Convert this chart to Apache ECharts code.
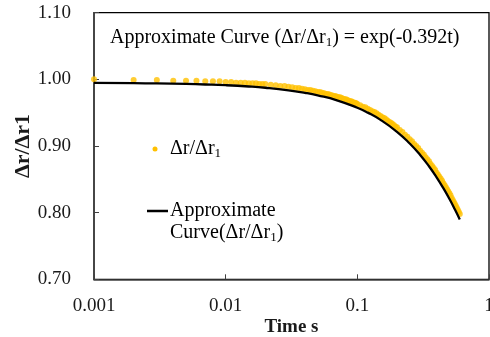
<!DOCTYPE html>
<html><head><meta charset="utf-8">
<script src="https://cdn.jsdelivr.net/npm/echarts@6/dist/echarts.min.js"></script>
<style>html,body{margin:0;padding:0;background:#fff}#c{width:490px;height:337px}</style>
</head><body><div id="c"></div>
<script>
// Measured ratio Δr/Δr1 (yellow dots): time t (s) and value
const dotT = [0.001,0.002,0.003,0.004,0.005,0.006,0.007,0.008,0.009,0.010,
  0.011,0.012,0.013,0.014,0.015,0.016,0.017,0.018,0.019,0.020,
  0.022,0.024,0.026,0.028,0.030,0.032,0.034,0.036,0.038,0.040,
  0.042,0.044,0.046,0.048,0.050,0.052,0.054,0.056,0.058,0.060,
  0.062,0.064,0.066,0.068,0.070,0.072,0.074,0.076,0.078,0.080,
  0.082,0.084,0.086,0.088,0.090,0.092,0.094,0.096,0.098,0.100,
  0.105,0.110,0.115,0.120,0.125,0.130,0.135,0.140,0.145,0.150,
  0.155,0.160,0.165,0.170,0.175,0.180,0.185,0.190,0.195,0.200,
  0.21,0.22,0.23,0.24,0.25,0.26,0.27,0.28,0.29,0.30,
  0.31,0.32,0.33,0.34,0.35,0.36,0.37,0.38,0.39,0.40,
  0.41,0.42,0.43,0.44,0.45,0.46,0.47,0.48,0.49,0.50,
  0.51,0.52,0.53,0.54,0.55,0.56,0.57,0.58,0.59,0.60];
const dotRatio = [1.000,0.999,0.999,0.998,0.998,0.998,0.997,0.997,0.997,0.996,
  0.996,0.995,0.995,0.995,0.994,0.994,0.994,0.993,0.993,0.993,
  0.992,0.991,0.990,0.990,0.989,0.988,0.987,0.987,0.986,0.985,
  0.984,0.984,0.983,0.982,0.981,0.981,0.980,0.979,0.978,0.978,
  0.977,0.976,0.975,0.975,0.974,0.973,0.973,0.972,0.971,0.970,
  0.970,0.969,0.968,0.967,0.967,0.966,0.965,0.965,0.964,0.963,
  0.961,0.959,0.958,0.956,0.954,0.952,0.951,0.949,0.947,0.945,
  0.943,0.942,0.940,0.938,0.936,0.935,0.933,0.931,0.929,0.928,
  0.924,0.921,0.917,0.914,0.910,0.907,0.903,0.900,0.897,0.893,
  0.890,0.887,0.883,0.880,0.877,0.873,0.870,0.867,0.864,0.860,
  0.857,0.854,0.851,0.848,0.844,0.841,0.838,0.835,0.832,0.829,
  0.826,0.822,0.819,0.816,0.813,0.810,0.807,0.804,0.801,0.798];
// Approximate curve (black line)
const curveT = [0.001,0.002,0.003,0.005,0.007,0.01,0.015,0.02,0.03,0.04,0.05,0.07,
  0.1,0.12,0.15,0.2,0.25,0.3,0.35,0.4,0.45,0.5,0.55,0.6];
const curveRatio = [0.9946,0.9942,0.9939,0.9931,0.9923,0.9912,0.9893,0.9874,0.9836,0.9798,0.9760,0.9686,
  0.9574,0.9501,0.9392,0.9213,0.9037,0.8865,0.8696,0.8530,0.8367,0.8208,0.8051,0.7898];
const xTicks = ['0.001','0.01','0.1','1'];
const yTicks = ['0.70','0.80','0.90','1.00','1.10'];

const FONT = 'Liberation Serif';
const TXT = '#1a1a1a';
const dotData = dotT.map((t,i)=>[t,dotRatio[i]]);
const curveData = curveT.map((t,i)=>[t,curveRatio[i]]);
const subRich = {
  n: {fontFamily: FONT, fontSize: 20, color: TXT, lineHeight: 22},
  s: {fontFamily: FONT, fontSize: 13, color: TXT, lineHeight: 22, verticalAlign: 'bottom'}
};

const chart = echarts.init(document.getElementById('c'), null, {renderer:'canvas'});
chart.setOption({
  animation: false,
  backgroundColor: '#fff',
  grid: {left: 94, right: 1, top: 12.7, bottom: 57.7, show: true, borderColor: '#000', borderWidth: 1.3, containLabel: false, outerBoundsMode: 'none'},
  xAxis: {
    type: 'log', logBase: 10, min: 0.001, max: 1,
    name: 'Time s', nameLocation: 'middle', nameGap: 38, nameMoveOverlap: false,
    nameTextStyle: {fontFamily: FONT, fontSize: 19, fontWeight: 'bold', color: TXT},
    axisLine: {show: true, lineStyle: {color: '#404040', width: 1.5}},
    axisTick: {show: true, inside: true, length: 5, lineStyle: {color: '#404040'}},
    minorTick: {show: false},
    splitLine: {show: false},
    axisLabel: {fontFamily: FONT, fontSize: 19, color: TXT, margin: 17,
      formatter: v => { const s = (+Number(v).toPrecision(3)).toString(); return xTicks.includes(s) ? s : ''; }}
  },
  yAxis: {
    type: 'value', min: 0.7, max: 1.1, interval: 0.1,
    name: 'Δr/Δr1', nameLocation: 'middle', nameGap: 60, nameRotate: 90, nameMoveOverlap: false,
    nameTextStyle: {fontFamily: FONT, fontSize: 22, fontWeight: 'bold', color: TXT},
    axisLine: {show: true, lineStyle: {color: '#404040', width: 1.5}},
    axisTick: {show: true, inside: true, length: 5, lineStyle: {color: '#404040'}},
    splitLine: {show: false},
    axisLabel: {fontFamily: FONT, fontSize: 19, color: TXT, margin: 23,
      formatter: v => { const s = Number(v).toFixed(2); return yTicks.includes(s) ? s : ''; }}
  },
  series: [
    {name: 'Δr/Δr₁', type: 'scatter', data: dotData, symbol: 'circle', symbolSize: 6,
      itemStyle: {color: '#FFC000'}, z: 2},
    {name: 'Approximate Curve(Δr/Δr₁)', type: 'line', data: curveData, showSymbol: false, smooth: true,
      lineStyle: {color: '#000', width: 2.3}, z: 3}
  ],
  graphic: [
    {type: 'text', x: 110, y: 38, z: 10, style: {
      text: '{n|Approximate Curve (Δr/Δr}{s|1}{n|) = exp(-0.392t)}', rich: subRich,
      textVerticalAlign: 'middle', verticalAlign: 'middle'}},
    {type: 'circle', shape: {cx: 155, cy: 149, r: 2.5}, style: {fill: '#FFC000'}, z: 10},
    {type: 'text', x: 170, y: 149, z: 10, style: {
      text: '{n|Δr/Δr}{s|1}', rich: subRich, textVerticalAlign: 'middle', verticalAlign: 'middle'}},
    {type: 'line', shape: {x1: 147, y1: 211, x2: 168, y2: 211}, style: {stroke: '#000', lineWidth: 2.5}, z: 10},
    {type: 'text', x: 170, y: 200, z: 10, style: {
      text: '{n|Approximate}\n{n|Curve(Δr/Δr}{s|1}{n|)}', rich: subRich, textVerticalAlign: 'top', verticalAlign: 'top'}}
  ]
});
</script></body></html>
